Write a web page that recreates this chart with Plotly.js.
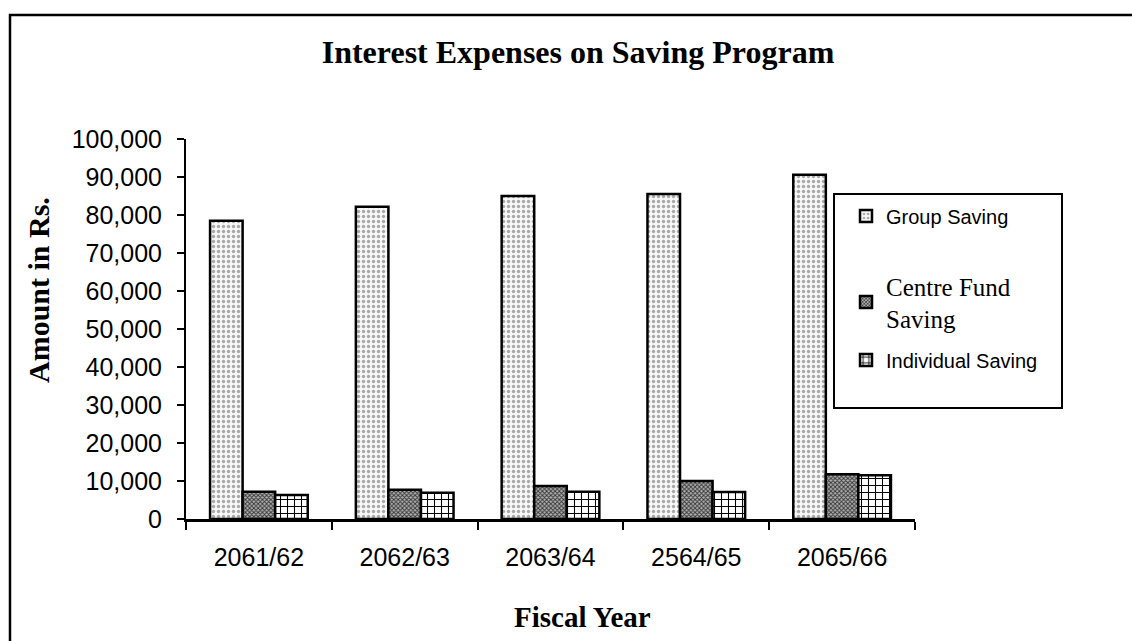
<!DOCTYPE html>
<html>
<head>
<meta charset="utf-8">
<script src="https://cdn.plot.ly/plotly-3.0.1.min.js"></script>
<style>
  html, body { margin: 0; padding: 0; background: #fff; }
  #chart { width: 1132px; height: 641px; }
</style>
</head>
<body>
<div id="chart"></div>
<script>
// Fiscal years on the category axis
const fiscalYears = ['2061/62', '2062/63', '2063/64', '2564/65', '2065/66'];

// Interest expenses (Rs.) per saving type
const groupSaving      = [78500, 82200, 85000, 85500, 90600];
const centreFundSaving = [7200, 7700, 8700, 10000, 11800];
const individualSaving = [6300, 6900, 7200, 7100, 11500];

// y-axis ticks
const yTickVals = [0, 10000, 20000, 30000, 40000, 50000, 60000, 70000, 80000, 90000, 100000];
const yTickText = ['0', '10,000', '20,000', '30,000', '40,000', '50,000', '60,000', '70,000', '80,000', '90,000', '100,000'];

// plot area in pixels
const W = 1132, H = 641;
const PL = 186, PR = 915, PT = 139, PB = 519;
const px = x => (x - PL) / (PR - PL);
const py = y => (PB - y) / (PB - PT);

const serif = 'Liberation Serif, Times New Roman, serif';
const sans = 'Liberation Sans, Arial, sans-serif';
const outline = { color: '#000', width: 2.5 };

const traces = [
  {
    type: 'bar', name: 'Group Saving', x: fiscalYears, y: groupSaving,
    legend: 'legend',
    marker: {
      color: '#fafafa', line: outline,
      pattern: { shape: '.', fgcolor: '#a8a8a8', bgcolor: '#f7f7f7', size: 5, solidity: 0.35, fillmode: 'replace' }
    }
  },
  {
    type: 'bar', name: 'Centre Fund<br>Saving', x: fiscalYears, y: centreFundSaving,
    legend: 'legend2',
    marker: {
      color: '#777', line: outline,
      pattern: { shape: 'x', fgcolor: '#333', bgcolor: '#b0b0b0', size: 3, solidity: 0.5, fillmode: 'replace' }
    }
  },
  {
    type: 'bar', name: 'Individual Saving', x: fiscalYears, y: individualSaving,
    legend: 'legend3',
    marker: {
      color: '#fff', line: outline,
      pattern: { shape: '+', fgcolor: '#000', bgcolor: '#fff', size: 7, solidity: 0.28, fillmode: 'replace' }
    }
  }
];

const legendBase = {
  bgcolor: 'rgba(0,0,0,0)', borderwidth: 0,
  xanchor: 'left', yanchor: 'middle', xref: 'paper', yref: 'paper',
  itemclick: false, itemdoubleclick: false
};

const layout = {
  width: W, height: H,
  paper_bgcolor: '#fff', plot_bgcolor: '#fff',
  margin: { l: PL, r: W - PR, t: PT, b: H - PB, pad: 0 },
  barmode: 'group', bargap: 0.33, bargroupgap: 0,
  title: {
    text: '<b>Interest Expenses on Saving Program</b>',
    font: { family: serif, size: 32, color: '#000' },
    xref: 'container', yref: 'container',
    x: 578 / W, xanchor: 'center', y: 1 - 52 / H, yanchor: 'middle'
  },
  xaxis: {
    type: 'category',
    showline: true, linecolor: '#000', linewidth: 2.5,
    ticks: 'outside', tickson: 'boundaries', ticklen: 8, tickwidth: 2, tickcolor: '#000',
    tickfont: { family: sans, size: 25, color: '#000' },
    ticklabelstandoff: 14,
    showgrid: false, zeroline: false
  },
  yaxis: {
    range: [0, 100000], tickvals: yTickVals, ticktext: yTickText,
    showline: true, linecolor: '#000', linewidth: 2,
    ticks: 'outside', ticklen: 7, tickwidth: 2, tickcolor: '#000',
    tickfont: { family: sans, size: 25, color: '#000' },
    ticklabelstandoff: 10,
    showgrid: false, zeroline: false
  },
  annotations: [
    // axis titles
    { text: '<b>Fiscal Year</b>', xref: 'paper', yref: 'paper', x: px(582), y: py(617),
      xanchor: 'center', yanchor: 'middle', showarrow: false,
      font: { family: serif, size: 29, color: '#000' } },
    { text: '<b>Amount in Rs.</b>', xref: 'paper', yref: 'paper', x: px(38), y: py(290),
      xanchor: 'center', yanchor: 'middle', showarrow: false, textangle: -90,
      font: { family: serif, size: 30, color: '#000' } }
  ],
  legend: Object.assign({}, legendBase, {
    x: px(846), y: py(216), font: { family: sans, size: 20, color: '#000' }
  }),
  legend2: Object.assign({}, legendBase, {
    x: px(846), y: py(302), font: { family: serif, size: 25, color: '#000' }
  }),
  legend3: Object.assign({}, legendBase, {
    x: px(846), y: py(360), font: { family: sans, size: 20, color: '#000' }
  }),
  shapes: [
    // outer frame
    { type: 'rect', xref: 'paper', yref: 'paper', x0: px(10), x1: px(1140), y0: py(650), y1: py(15),
      line: { color: '#000', width: 2.5 }, fillcolor: 'rgba(0,0,0,0)', layer: 'above' },
    // legend box
    { type: 'rect', xref: 'paper', yref: 'paper', x0: px(834), x1: px(1062), y0: py(408), y1: py(194),
      line: { color: '#000', width: 2 }, fillcolor: 'rgba(0,0,0,0)', layer: 'above' }
  ],
  showlegend: true
};

Plotly.newPlot('chart', traces, layout, { displayModeBar: false, staticPlot: true });
</script>
</body>
</html>
